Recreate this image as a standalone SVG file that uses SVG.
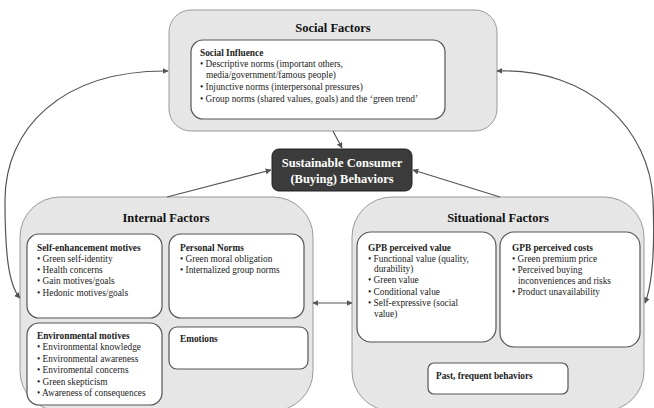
<svg xmlns="http://www.w3.org/2000/svg" width="654" height="408" viewBox="0 0 654 408">
<defs>
<marker id="ah" viewBox="0 0 10 10" refX="9" refY="5" markerWidth="6" markerHeight="6" markerUnits="userSpaceOnUse" orient="auto-start-reverse"><path d="M0,0 L10,5 L0,10 z" fill="#555"/></marker>
<style>
.outer{fill:#e6e6e6;stroke:#999;stroke-width:1}
.inner{fill:#fff;stroke:#555;stroke-width:1.2}
.t{font-family:"Liberation Serif","Times New Roman",serif;font-size:9.3px;fill:#222}
.b{font-weight:bold}
.h{font-family:"Liberation Serif","Times New Roman",serif;font-size:12.5px;font-weight:bold;fill:#111;text-anchor:middle}
.conn{fill:none;stroke:#555;stroke-width:1.2}
</style>
</defs>
<rect width="654" height="408" fill="#fff"/>

<g id="social">
<rect class="outer" x="169" y="10" width="328" height="121" rx="22"/>
<text class="h" x="333" y="32">Social Factors</text>
<rect class="inner" x="191" y="40" width="254" height="79" rx="12"/>
<text class="t b" x="200" y="55.5">Social Influence</text>
<text class="t" x="200" y="66.5">• Descriptive norms (important others,</text>
<text class="t" x="206" y="78">media/government/famous people)</text>
<text class="t" x="200" y="90">• Injunctive norms (interpersonal pressures)</text>
<text class="t" x="200" y="101.5">• Group norms (shared values, goals) and the ‘green trend’</text>
</g>

<g id="center">
<rect x="272" y="149" width="140" height="42" rx="7" fill="#3b3b3b" stroke="#222" stroke-width="1"/>
<text class="h" x="342" y="167" style="fill:#fff">Sustainable Consumer</text>
<text class="h" x="342" y="182.5" style="fill:#fff">(Buying) Behaviors</text>
</g>

<g id="internal">
<rect class="outer" x="20" y="197" width="293" height="214" rx="40"/>
<text class="h" x="166" y="222">Internal Factors</text>
</g>

<g id="self-enhancement">
<rect class="inner" x="27" y="234" width="135" height="84" rx="12"/>
<text class="t b" x="37" y="250.5">Self-enhancement motives</text>
<text class="t" x="37" y="261.5">• Green self-identity</text>
<text class="t" x="37" y="272.5">• Health concerns</text>
<text class="t" x="37" y="284">• Gain motives/goals</text>
<text class="t" x="37" y="295.5">• Hedonic motives/goals</text>
</g>

<g id="personal-norms">
<rect class="inner" x="169" y="234" width="135" height="84" rx="12"/>
<text class="t b" x="180" y="250.5">Personal Norms</text>
<text class="t" x="180" y="261.5">• Green moral obligation</text>
<text class="t" x="180" y="272.5">• Internalized group norms</text>
</g>

<g id="environmental">
<rect class="inner" x="27" y="323" width="135" height="82" rx="12"/>
<text class="t b" x="37" y="338.5">Environmental motives</text>
<text class="t" x="37" y="350">• Environmental knowledge</text>
<text class="t" x="37" y="361.5">• Environmental awareness</text>
<text class="t" x="37" y="373">• Enviromental concerns</text>
<text class="t" x="37" y="384.5">• Green skepticism</text>
<text class="t" x="37" y="396">• Awareness of consequences</text>
</g>

<g id="emotions">
<rect class="inner" x="169" y="327" width="139" height="42" rx="8"/>
<text class="t b" x="180" y="341.5">Emotions</text>
</g>

<g id="situational">
<rect class="outer" x="352" y="197" width="292" height="214" rx="40"/>
<text class="h" x="498" y="222">Situational Factors</text>
</g>

<g id="perceived-value">
<rect class="inner" x="357" y="232" width="139" height="110" rx="14"/>
<text class="t b" x="368" y="250.5">GPB perceived value</text>
<text class="t" x="368" y="261.5">• Functional value (quality,</text>
<text class="t" x="374" y="272">durability)</text>
<text class="t" x="368" y="283">• Green value</text>
<text class="t" x="368" y="294.5">• Conditional value</text>
<text class="t" x="368" y="306">• Self-expressive (social</text>
<text class="t" x="374" y="317">value)</text>
</g>

<g id="perceived-costs">
<rect class="inner" x="500" y="232" width="140" height="115" rx="14"/>
<text class="t b" x="512" y="250.5">GPB perceived costs</text>
<text class="t" x="512" y="261.5">• Green premium price</text>
<text class="t" x="512" y="272.5">• Perceived buying</text>
<text class="t" x="518" y="283.5">inconveniences and risks</text>
<text class="t" x="512" y="295">• Product unavailability</text>
</g>

<g id="past-behaviors">
<rect class="inner" x="428" y="363" width="140" height="31" rx="6"/>
<text class="t b" x="436" y="378.5">Past, frequent behaviors</text>
</g>

<g id="connectors">
<line class="conn" x1="333" y1="131" x2="342" y2="148" marker-end="url(#ah)"/>
<line class="conn" x1="167" y1="197" x2="271" y2="170" marker-end="url(#ah)"/>
<line class="conn" x1="500" y1="197" x2="413" y2="170" marker-end="url(#ah)"/>
<line class="conn" x1="313" y1="303" x2="352" y2="303" marker-start="url(#ah)" marker-end="url(#ah)"/>
<path class="conn" d="M168,71 C60,70 5,130 5,200 C5,250 8,285 20,298" marker-start="url(#ah)" marker-end="url(#ah)"/>
<path class="conn" d="M497,71 C590,68 650,130 653,200 C655,250 652,285 645,303" marker-start="url(#ah)" marker-end="url(#ah)"/>
</g>
</svg>
